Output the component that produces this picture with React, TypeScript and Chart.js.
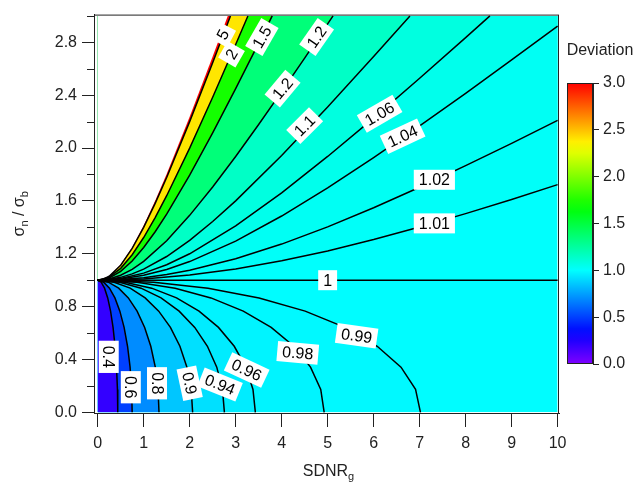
import React, { useEffect, useRef } from 'react';
import { Chart, registerables } from 'chart.js';

Chart.register(...registerables);

const FONT = "'Liberation Sans', Arial, Helvetica, sans-serif";

// ---- axis ticks ----
const xTicks = [0, 1, 2, 3, 4, 5, 6, 7, 8, 9, 10];
const xTickLabels = ['0', '1', '2', '3', '4', '5', '6', '7', '8', '9', '10'];
const yTicks = [0, 0.4, 0.8, 1.2, 1.6, 2.0, 2.4, 2.8];
const yTickLabels = ['0.0', '0.4', '0.8', '1.2', '1.6', '2.0', '2.4', '2.8'];
const yMinorTicks = [0.2, 0.6, 1.0, 1.4, 1.8, 2.2, 2.6, 3.0];
const cbTicks = [0, 0.5, 1, 1.5, 2, 2.5, 3];
const cbTickLabels = ['0.0', '0.5', '1.0', '1.5', '2.0', '2.5', '3.0'];
const cbStops = [0, 0.125, 0.25, 0.375, 0.5, 0.625, 0.75, 0.875, 1, 1.125, 1.25, 1.375, 1.5, 1.625, 1.75, 1.875, 2, 2.125, 2.25, 2.375, 2.5, 2.625, 2.75, 2.875, 3];

// ---- contour lines ----
// lines below 1 : all run from (0,1) down to the bottom axis
const yLow = [1, 0.9848, 0.9397, 0.866, 0.766, 0.6428, 0.5, 0.342, 0.1736, 0];
const x_0_4 = [0, 0.0758, 0.1493, 0.2182, 0.2805, 0.3343, 0.3779, 0.4101, 0.4298, 0.4364];
const x_0_6 = [0, 0.1302, 0.2565, 0.375, 0.4821, 0.5745, 0.6495, 0.7048, 0.7386, 0.75];
const x_0_8 = [0, 0.2315, 0.456, 0.6667, 0.8571, 1.0213, 1.1547, 1.2529, 1.313, 1.3333];
const x_0_9 = [0, 0.3584, 0.7061, 1.0324, 1.3272, 1.5816, 1.788, 1.9402, 2.0333, 2.0647];
const x_0_94 = [0, 0.4783, 0.9423, 1.3776, 1.771, 2.1105, 2.386, 2.5891, 2.7133, 2.7552];
const x_0_96 = [0, 0.5952, 1.1726, 1.7143, 2.2039, 2.6263, 2.9692, 3.2219, 3.3765, 3.4286];
const x_0_98 = [0, 0.8549, 1.6842, 2.4624, 3.1656, 3.7723, 4.2648, 4.6277, 4.8498, 4.9247];
const x_0_99 = [0, 1.2183, 2.4001, 3.509, 4.5111, 5.3757, 6.0775, 6.5947, 6.9112, 7.0179];

// the level-1 line
const x_1 = [0, 10];
const y_1 = [1, 1];

// lines above 1
const x_1_01 = [0, 1, 2, 3, 4, 5, 6, 7, 8, 9, 10];
const y_1_01 = [1, 1.0098, 1.0387, 1.0851, 1.1469, 1.2217, 1.3074, 1.402, 1.5037, 1.6112, 1.7235];
const x_1_02 = [0, 0.5, 1, 1.5, 2, 3, 4, 5, 6, 7, 8, 9, 10];
const y_1_02 = [1, 1.0048, 1.0192, 1.0428, 1.0749, 1.1617, 1.2733, 1.4038, 1.5485, 1.7037, 1.8669, 2.036, 2.2098];
const x_1_04 = [0, 0.5, 1, 1.5, 2, 3, 4, 5, 6, 7, 8, 9, 10];
const y_1_04 = [1, 1.0094, 1.037, 1.0816, 1.141, 1.2958, 1.4856, 1.6989, 1.9277, 2.1672, 2.4142, 2.6666, 2.9231];
const x_1_06 = [0, 0.5, 1, 1.5, 2, 3, 4, 5, 6, 7, 8, 8.528];
const y_1_06 = [1, 1.0137, 1.0536, 1.1169, 1.2, 1.4107, 1.6613, 1.9365, 2.2271, 2.5279, 2.8355, 3];
const x_1_1 = [0, 0.25, 0.5, 0.75, 1, 1.5, 2, 2.5, 3, 4, 5, 6, 6.789];
const y_1_1 = [1, 1.0054, 1.0215, 1.0477, 1.0833, 1.1792, 1.3016, 1.4439, 1.6006, 1.9434, 2.3106, 2.6922, 3];
const x_1_2 = [0, 0.25, 0.5, 0.75, 1, 1.5, 2, 2.5, 3, 3.5, 4, 4.5, 5, 5.117];
const y_1_2 = [1, 1.0095, 1.0375, 1.0825, 1.1426, 1.299, 1.4907, 1.7058, 1.9365, 2.1779, 2.4267, 2.681, 2.9392, 3];
const x_1_5 = [0, 0.25, 0.5, 0.75, 1, 1.25, 1.5, 2, 2.5, 3, 3.5, 3.795];
const y_1_5 = [1, 1.0172, 1.0672, 1.1456, 1.2472, 1.3668, 1.5, 1.7951, 2.1148, 2.4495, 2.7938, 3];
const x_2 = [0, 0.25, 0.5, 0.75, 1, 1.25, 1.5, 2, 2.5, 3, 3.266];
const y_2 = [1, 1.0232, 1.0897, 1.1924, 1.3229, 1.4737, 1.6394, 2, 2.3849, 2.7839, 3];
const x_5 = [0, 0.1, 0.25, 0.5, 0.75, 1, 1.25, 1.5, 2, 2.5, 2.887];
const y_5 = [1, 1.0048, 1.0296, 1.1136, 1.241, 1.4, 1.5811, 1.7776, 2.2, 2.6458, 3];

// edge of the defined (coloured) region
const x_edge = [0, 0.1, 0.25, 0.5, 0.75, 1, 1.25, 1.5, 2, 2.5, 2.828];
const y_edge = [1, 1.005, 1.0308, 1.118, 1.25, 1.4142, 1.6008, 1.8028, 2.2361, 2.6926, 3];

// fill value of the band on the far side of each line
const lowLevels = [0.99, 0.98, 0.96, 0.94, 0.9, 0.8, 0.6, 0.4];
const lowBandValues = [0.985, 0.97, 0.95, 0.92, 0.85, 0.7, 0.5, 0.2];
const highLevels = [1.01, 1.02, 1.04, 1.06, 1.1, 1.2, 1.5, 2, 5];
const highBandValues = [1.015, 1.03, 1.05, 1.08, 1.15, 1.35, 1.72, 2.4, 3];
const belowOneValue = 0.995;
const aboveOneValue = 1.005;

// ---- contour labels ----
const labelText = ['0.4', '0.6', '0.8', '0.9', '0.94', '0.96', '0.98', '0.99', '1', '1.01', '1.02', '1.04', '1.06', '1.1', '1.2', '1.2', '1.5', '2', '5'];
const labelX = [0.24, 0.72, 1.29, 2.0, 2.66, 3.24, 4.35, 5.63, 5.0, 7.32, 7.32, 6.63, 6.13, 4.5, 4.02, 4.76, 3.57, 2.91, 2.72];
const labelY = [0.42, 0.19, 0.22, 0.22, 0.21, 0.32, 0.45, 0.58, 1.0, 1.43, 1.76, 2.09, 2.26, 2.17, 2.45, 2.84, 2.84, 2.71, 2.86];
const labelAngle = [90, 90, 90, 78, 22, 25, 5, 8, 0, 0, 0, -25, -30, -45, -50, -55, -60, -60, -62];

const lowX: Record<string, number[]> = {
  '0.99': x_0_99, '0.98': x_0_98, '0.96': x_0_96, '0.94': x_0_94,
  '0.9': x_0_9, '0.8': x_0_8, '0.6': x_0_6, '0.4': x_0_4,
};
const highXY: Record<string, [number[], number[]]> = {
  '1.01': [x_1_01, y_1_01], '1.02': [x_1_02, y_1_02], '1.04': [x_1_04, y_1_04],
  '1.06': [x_1_06, y_1_06], '1.1': [x_1_1, y_1_1], '1.2': [x_1_2, y_1_2],
  '1.5': [x_1_5, y_1_5], '2': [x_2, y_2], '5': [x_5, y_5],
};

function devColor(v: number) {
  const t = Math.min(3, Math.max(0, v));
  const h = 270 * (1 - t / 3);
  return `hsl(${h.toFixed(2)},100%,50%)`;
}

function zip(xs: number[], ys: number[]): [number, number][] {
  return xs.map((x, i) => [x, ys[i]]);
}

const lowLines = lowLevels.map((lv, i) => ({ pts: zip(lowX[String(lv)], yLow), fill: lowBandValues[i] }));
const highLines = highLevels.map((lv, i) => {
  const [xs, ys] = highXY[String(lv)];
  return { pts: zip(xs, ys), fill: highBandValues[i] };
});
const allLines: [number, number][][] = [
  ...lowLines.map((l) => l.pts),
  zip(x_1, y_1),
  ...highLines.map((l) => l.pts),
];

function drawRich(ctx: CanvasRenderingContext2D, segs: { t: string; sub?: boolean }[], cx: number, cy: number) {
  const big = `16px ${FONT}`;
  const small = `11px ${FONT}`;
  let total = 0;
  const widths = segs.map((s) => {
    ctx.font = s.sub ? small : big;
    const w = ctx.measureText(s.t).width;
    total += w;
    return w;
  });
  let x = cx - total / 2;
  ctx.textAlign = 'left';
  ctx.textBaseline = 'alphabetic';
  segs.forEach((s, i) => {
    ctx.font = s.sub ? small : big;
    ctx.fillText(s.t, x, cy + (s.sub ? 4 : 0));
    x += widths[i];
  });
}

const heatPlugin = {
  id: 'heat',
  beforeDatasetsDraw(chart: any) {
    const { ctx } = chart;
    const xs = chart.scales.x;
    const ys = chart.scales.y;
    const P = (x: number, y: number) => [xs.getPixelForValue(x), ys.getPixelForValue(y)];
    const poly = (pts: [number, number][], color: string) => {
      ctx.beginPath();
      pts.forEach(([x, y], i) => {
        const [a, b] = P(x, y);
        if (i) ctx.lineTo(a, b);
        else ctx.moveTo(a, b);
      });
      ctx.closePath();
      ctx.fillStyle = color;
      ctx.fill();
    };
    ctx.save();
    const [l, t] = P(0, 3);
    const [r, b] = P(10, 0);
    ctx.beginPath();
    ctx.rect(l, t, r - l, b - t);
    ctx.clip();
    poly([[0, 1], [10, 1], [10, 0], [0, 0]], devColor(belowOneValue));
    lowLines.forEach((ln) => poly([...ln.pts, [0, 0]], devColor(ln.fill)));
    poly([[0, 1], [10, 1], [10, 3], [0, 3]], devColor(aboveOneValue));
    highLines.forEach((ln) => {
      const pts = [...ln.pts];
      const last = pts[pts.length - 1];
      if (last[1] < 3) pts.push([10, 3]);
      pts.push([0, 3]);
      poly(pts, devColor(ln.fill));
    });
    poly([...zip(x_edge, y_edge), [0, 3]], '#ffffff');
    ctx.restore();
  },
  afterDatasetsDraw(chart: any) {
    const { ctx, chartArea } = chart;
    const xs = chart.scales.x;
    const ys = chart.scales.y;
    // frame
    ctx.save();
    ctx.strokeStyle = '#222';
    ctx.lineWidth = 1;
    ctx.strokeRect(chartArea.left + 0.5, chartArea.top + 0.5, chartArea.right - chartArea.left - 1, chartArea.bottom - chartArea.top);
    // minor ticks
    yMinorTicks.forEach((v) => {
      const y = Math.round(ys.getPixelForValue(v)) + 0.5;
      ctx.beginPath();
      ctx.moveTo(chartArea.left - 7, y);
      ctx.lineTo(chartArea.left, y);
      ctx.stroke();
    });
    // contour labels
    ctx.font = `16px ${FONT}`;
    labelText.forEach((txt, i) => {
      const px = xs.getPixelForValue(labelX[i]);
      const py = ys.getPixelForValue(labelY[i]);
      ctx.save();
      ctx.translate(px, py);
      ctx.rotate((labelAngle[i] * Math.PI) / 180);
      const w = ctx.measureText(txt).width + 10;
      const h = 20;
      ctx.fillStyle = '#ffffff';
      ctx.fillRect(-w / 2, -h / 2, w, h);
      ctx.fillStyle = '#000';
      ctx.textAlign = 'center';
      ctx.textBaseline = 'middle';
      ctx.fillText(txt, 0, 1);
      ctx.restore();
    });
    ctx.restore();
  },
  afterDraw(chart: any) {
    const { ctx, chartArea } = chart;
    ctx.save();
    ctx.fillStyle = '#222';
    // x title
    drawRich(ctx, [{ t: 'SDNR' }, { t: 'g', sub: true }], (chartArea.left + chartArea.right) / 2 + 2, 476);
    // y title
    ctx.translate(24, (chartArea.top + chartArea.bottom) / 2);
    ctx.rotate(-Math.PI / 2);
    drawRich(ctx, [{ t: 'σ' }, { t: 'n', sub: true }, { t: ' / σ' }, { t: 'b', sub: true }], 0, 0);
    ctx.restore();
  },
};

const cbPlugin = {
  id: 'cbar',
  afterDraw(chart: any) {
    const { ctx, chartArea } = chart;
    const ys = chart.scales.y;
    const { left, right, top, bottom } = chartArea;
    const g = ctx.createLinearGradient(0, ys.getPixelForValue(0), 0, ys.getPixelForValue(3));
    cbStops.forEach((v) => g.addColorStop(v / 3, devColor(v)));
    ctx.save();
    ctx.fillStyle = g;
    ctx.fillRect(left, top, right - left, bottom - top);
    ctx.strokeStyle = '#222';
    ctx.lineWidth = 1;
    ctx.strokeRect(left + 0.5, top + 0.5, right - left - 1, bottom - top - 1);
    ctx.fillStyle = '#222';
    ctx.font = `16px ${FONT}`;
    ctx.textAlign = 'center';
    ctx.textBaseline = 'middle';
    ctx.fillText('Deviation', 40, 21);
    ctx.restore();
  },
};

export default function App() {
  const mainRef = useRef<HTMLCanvasElement>(null);
  const cbRef = useRef<HTMLCanvasElement>(null);

  useEffect(() => {
    Chart.defaults.font.family = FONT;
    Chart.defaults.font.size = 16;
    Chart.defaults.color = '#222';

    const main = new Chart(mainRef.current as HTMLCanvasElement, {
      type: 'scatter',
      data: {
        datasets: allLines.map((pts) => ({
          data: pts.map(([x, y]) => ({ x, y })),
          showLine: true,
          borderColor: '#000',
          borderWidth: 1.5,
          pointRadius: 0,
          pointHoverRadius: 0,
          fill: false,
          tension: 0,
        })),
      },
      options: {
        animation: false,
        responsive: false,
        events: [],
        layout: { padding: { left: 0, right: 79, top: 4, bottom: 0 } },
        plugins: { legend: { display: false }, tooltip: { enabled: false } },
        scales: {
          x: {
            type: 'linear',
            min: -0.08,
            max: 10.03,
            afterFit: (s: any) => { s.height = 74; },
            afterBuildTicks: (s: any) => { s.ticks = xTicks.map((v) => ({ value: v })); },
            ticks: {
              autoSkip: false,
              maxRotation: 0,
              padding: 7,
              color: '#222',
              font: { size: 16 },
              callback: (v: any) => { const i = xTicks.indexOf(Number(v)); return i >= 0 ? xTickLabels[i] : ''; },
            },
            grid: { drawOnChartArea: false, drawTicks: true, tickLength: 14, color: '#222', lineWidth: 1 },
            border: { display: true, color: '#222', width: 1 },
          },
          y: {
            type: 'linear',
            min: -0.005,
            max: 3.01,
            afterFit: (s: any) => { s.width = 94; },
            afterBuildTicks: (s: any) => { s.ticks = yTicks.map((v) => ({ value: v })); },
            ticks: {
              autoSkip: false,
              padding: 5,
              color: '#222',
              font: { size: 16 },
              callback: (v: any) => { const i = yTicks.indexOf(Number(v)); return i >= 0 ? yTickLabels[i] : ''; },
            },
            grid: { drawOnChartArea: false, drawTicks: true, tickLength: 12, color: '#222', lineWidth: 1 },
            border: { display: true, color: '#222', width: 1 },
          },
        },
      },
      plugins: [heatPlugin],
    });

    const cb = new Chart(cbRef.current as HTMLCanvasElement, {
      type: 'scatter',
      data: { datasets: [] },
      options: {
        animation: false,
        responsive: false,
        events: [],
        layout: { padding: { left: 7, right: 0, top: 53, bottom: 16 } },
        plugins: { legend: { display: false }, tooltip: { enabled: false } },
        scales: {
          x: { display: false, min: 0, max: 1 },
          y: {
            position: 'right',
            min: 0,
            max: 3,
            afterFit: (s: any) => { s.width = 45; },
            afterBuildTicks: (s: any) => { s.ticks = cbTicks.map((v) => ({ value: v })); },
            ticks: {
              autoSkip: false,
              padding: 4,
              color: '#222',
              font: { size: 16 },
              callback: (v: any) => { const i = cbTicks.indexOf(Number(v)); return i >= 0 ? cbTickLabels[i] : ''; },
            },
            grid: { drawOnChartArea: false, drawTicks: true, tickLength: 6, color: '#222' },
            border: { display: true, color: '#222' },
          },
        },
      },
      plugins: [cbPlugin],
    });

    return () => {
      main.destroy();
      cb.destroy();
    };
  }, []);

  return (
    <div style={{ position: 'absolute', left: 0, top: 0, width: 638, height: 487, background: '#fff' }}>
      <canvas ref={mainRef} width={638} height={487} style={{ position: 'absolute', left: 0, top: 0, width: 638, height: 487 }} />
      <canvas ref={cbRef} width={78} height={350} style={{ position: 'absolute', left: 560, top: 30, width: 78, height: 350 }} />
    </div>
  );
}
